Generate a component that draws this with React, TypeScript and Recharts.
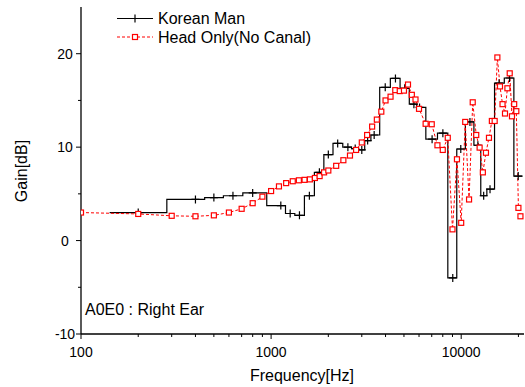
import { ComposedChart, Line, XAxis, YAxis } from 'recharts'

// Korean Man (step curve, centre frequencies of the bands)
const manFreq = [200, 400, 500, 630, 800, 1125, 1260, 1410, 1590, 1795, 2000, 2240, 2535, 2770, 3000, 3220, 3485, 3985, 4510, 5045, 5640, 6040, 7030, 8010, 9030, 9950, 11120, 12240, 13130, 14180, 15820, 17960, 19950]
const manGain = [3.0, 4.4, 4.6, 4.8, 5.1, 3.75, 2.9, 2.7, 4.8, 7.3, 9.2, 10.4, 10.0, 9.85, 9.7, 10.7, 11.3, 16.4, 17.35, 16.3, 14.6, 14.25, 10.85, 11.5, -4.0, 9.8, 12.7, 10.2, 4.8, 5.5, 16.85, 17.4, 6.9]

// Head Only (No Canal)
const headFreq = [100, 200, 300, 400, 500, 600, 700, 800, 900, 1000, 1100, 1200, 1300, 1400, 1500, 1600, 1700, 1800, 1900, 2000, 2200, 2400, 2600, 2800, 3000, 3200, 3400, 3600, 3800, 4000, 4250, 4500, 4750, 5000, 5250, 5500, 5750, 6000, 6500, 7000, 7500, 8000, 8500, 9000, 9500, 10000, 10500, 11000, 11500, 12000, 12500, 13000, 13500, 14000, 14500, 15000, 15500, 16000, 16500, 17000, 17500, 18000, 18500, 19000, 19500, 20000, 20500]
const headGain = [3.0, 2.85, 2.65, 2.6, 2.7, 3.0, 3.4, 4.0, 4.7, 5.3, 5.8, 6.15, 6.35, 6.45, 6.5, 6.55, 6.7, 6.9, 7.3, 7.5, 8.0, 8.6, 9.1, 9.7, 10.5, 11.3, 12.2, 12.95, 13.8, 15.0, 15.4, 16.1, 16.0, 16.05, 16.7, 15.6, 15.1, 14.1, 12.5, 12.45, 10.2, 9.7, 11.0, 1.2, 8.7, 1.9, 12.7, 4.4, 14.8, 11.3, 9.95, 7.3, 9.4, 11.0, 12.8, 12.8, 19.6, 16.5, 14.6, 13.6, 16.3, 17.9, 13.3, 14.6, 13.85, 3.5, 2.6]

const xTicks = [100, 200, 300, 400, 500, 600, 700, 800, 900, 1000, 2000, 3000, 4000, 5000, 6000, 7000, 8000, 9000, 10000, 20000]
const xLabels = [100, 1000, 10000]
const yTicks = [-10, -5, 0, 5, 10, 15, 20]
const yLabels = [-10, 0, 10, 20]

const FONT = '"Liberation Sans", Arial, sans-serif'

// band edges: geometric mid between centres, ends mirrored
function stepPoints(freqs: number[], gains: number[]) {
  const pts: { f: number; man: number }[] = []
  const n = freqs.length
  for (let i = 0; i < n; i++) {
    const lo = i > 0 ? Math.sqrt(freqs[i - 1] * freqs[i]) : (freqs[0] * freqs[0]) / Math.sqrt(freqs[0] * freqs[1])
    const hi = i < n - 1 ? Math.sqrt(freqs[i] * freqs[i + 1]) : (freqs[i] * freqs[i]) / Math.sqrt(freqs[i - 1] * freqs[i])
    pts.push({ f: lo, man: gains[i] }, { f: hi, man: gains[i] })
  }
  return pts
}

const manSteps = stepPoints(manFreq, manGain)
const manPoints = manFreq.map((f, i) => ({ f, man: manGain[i] }))
const headData = headFreq.map((f, i) => ({ f, head: headGain[i] }))

const X_DOMAIN: [number, number] = [100, 21400]
const Y_DOMAIN: [number, number] = [-10, 25]

function BottomTick({ x, y, payload }: any) {
  const major = xLabels.includes(payload.value)
  return (
    <g>
      <line x1={x} y1={y} x2={x} y2={y + (major ? 5 : 3)} stroke="#000" strokeWidth={1} />
      {major && (
        <text x={x} y={y + 23} textAnchor="middle" fontSize={14} fontFamily={FONT} fill="#000">
          {payload.value}
        </text>
      )}
    </g>
  )
}

function TopTick({ x, y, payload }: any) {
  const major = xLabels.includes(payload.value)
  return <line x1={x} y1={y} x2={x} y2={y + (major ? 5 : 3)} stroke="#000" strokeWidth={1} />
}

function LeftTick({ x, y, payload }: any) {
  const major = yLabels.includes(payload.value)
  return (
    <g>
      <line x1={x - (major ? 5 : 3)} y1={y} x2={x} y2={y} stroke="#000" strokeWidth={1} />
      {major && (
        <text x={x - 16} y={y + 5} textAnchor="middle" fontSize={14} fontFamily={FONT} fill="#000">
          {payload.value}
        </text>
      )}
    </g>
  )
}

function RightTick({ x, y, payload }: any) {
  const major = yLabels.includes(payload.value)
  return <line x1={x} y1={y} x2={x - (major ? 5 : 3)} y2={y} stroke="#000" strokeWidth={1} />
}

function Plus({ cx, cy, index }: any) {
  if (cx == null || cy == null) return <g key={index} />
  return (
    <path key={index} d={`M${cx - 4},${cy}H${cx + 4}M${cx},${cy - 4}V${cy + 4}`} stroke="#000" strokeWidth={1.2} fill="none" />
  )
}

function Square({ cx, cy, index }: any) {
  if (cx == null || cy == null) return <g key={index} />
  return <rect key={index} x={cx - 2.5} y={cy - 2.5} width={5} height={5} fill="#fff" stroke="#f00" strokeWidth={1.2} />
}

export default function App() {
  return (
    <div style={{ position: 'relative', width: 525, height: 387, background: '#fff' }}>
      <style>{'body{margin:0;background:#fff}'}</style>
      <ComposedChart width={525} height={387} margin={{ top: 7, right: 1, bottom: 0, left: 0 }}>
        <XAxis
          xAxisId="b"
          dataKey="f"
          type="number"
          scale="log"
          domain={X_DOMAIN}
          allowDataOverflow
          ticks={xTicks}
          interval={0}
          height={53}
          tickSize={0}
          tickMargin={0}
          tickLine={false}
          tick={BottomTick}
          axisLine={{ stroke: '#000', strokeWidth: 1.3 }}
        />
        <XAxis
          xAxisId="t"
          orientation="top"
          dataKey="f"
          type="number"
          scale="log"
          domain={X_DOMAIN}
          allowDataOverflow
          ticks={xTicks}
          interval={0}
          height={0}
          tickSize={0}
          tickMargin={0}
          tickLine={false}
          tick={TopTick}
          axisLine={{ stroke: '#000', strokeWidth: 1.3 }}
        />
        <YAxis
          yAxisId="l"
          type="number"
          domain={Y_DOMAIN}
          allowDataOverflow
          ticks={yTicks}
          interval={0}
          width={81}
          tickSize={0}
          tickMargin={0}
          tickLine={false}
          tick={LeftTick}
          axisLine={{ stroke: '#000', strokeWidth: 1.3 }}
        />
        <YAxis
          yAxisId="r"
          orientation="right"
          type="number"
          domain={Y_DOMAIN}
          allowDataOverflow
          ticks={yTicks}
          interval={0}
          width={0}
          tickSize={0}
          tickMargin={0}
          tickLine={false}
          tick={RightTick}
          axisLine={{ stroke: '#000', strokeWidth: 1.3 }}
        />
        <Line
          xAxisId="b"
          yAxisId="l"
          data={manSteps}
          dataKey="man"
          type="linear"
          stroke="#000"
          strokeWidth={1.2}
          dot={false}
          isAnimationActive={false}
        />
        <Line
          xAxisId="b"
          yAxisId="l"
          data={manPoints}
          dataKey="man"
          stroke="none"
          dot={Plus}
          activeDot={false}
          isAnimationActive={false}
        />
        <Line
          xAxisId="b"
          yAxisId="l"
          data={headData}
          dataKey="head"
          type="linear"
          stroke="#f00"
          strokeWidth={1}
          strokeDasharray="3 2"
          dot={Square}
          activeDot={false}
          isAnimationActive={false}
        />
      </ComposedChart>
      <svg
        width={525}
        height={387}
        style={{ position: 'absolute', left: 0, top: 0, pointerEvents: 'none' }}
        fontFamily={FONT}
      >
        <line x1={117} y1={18.5} x2={153} y2={18.5} stroke="#000" strokeWidth={1.2} />
        <path d="M131,18.5H139M135,14.5V22.5" stroke="#000" strokeWidth={1.2} />
        <text x={158} y={24} fontSize={16} fill="#000">Korean Man</text>
        <line x1={117} y1={37} x2={153} y2={37} stroke="#f00" strokeWidth={1} strokeDasharray="3 2" />
        <rect x={132.5} y={34.5} width={5} height={5} fill="#fff" stroke="#f00" strokeWidth={1.2} />
        <text x={158} y={43} fontSize={16} fill="#000">Head Only(No Canal)</text>
        <text x={85} y={315} fontSize={16} fill="#000">A0E0 : Right Ear</text>
        <text x={302} y={381} fontSize={16} textAnchor="middle" fill="#000">Frequency[Hz]</text>
        <text x={27} y={171} fontSize={16} textAnchor="middle" fill="#000" transform="rotate(-90 27 171)">
          Gain[dB]
        </text>
      </svg>
    </div>
  )
}
